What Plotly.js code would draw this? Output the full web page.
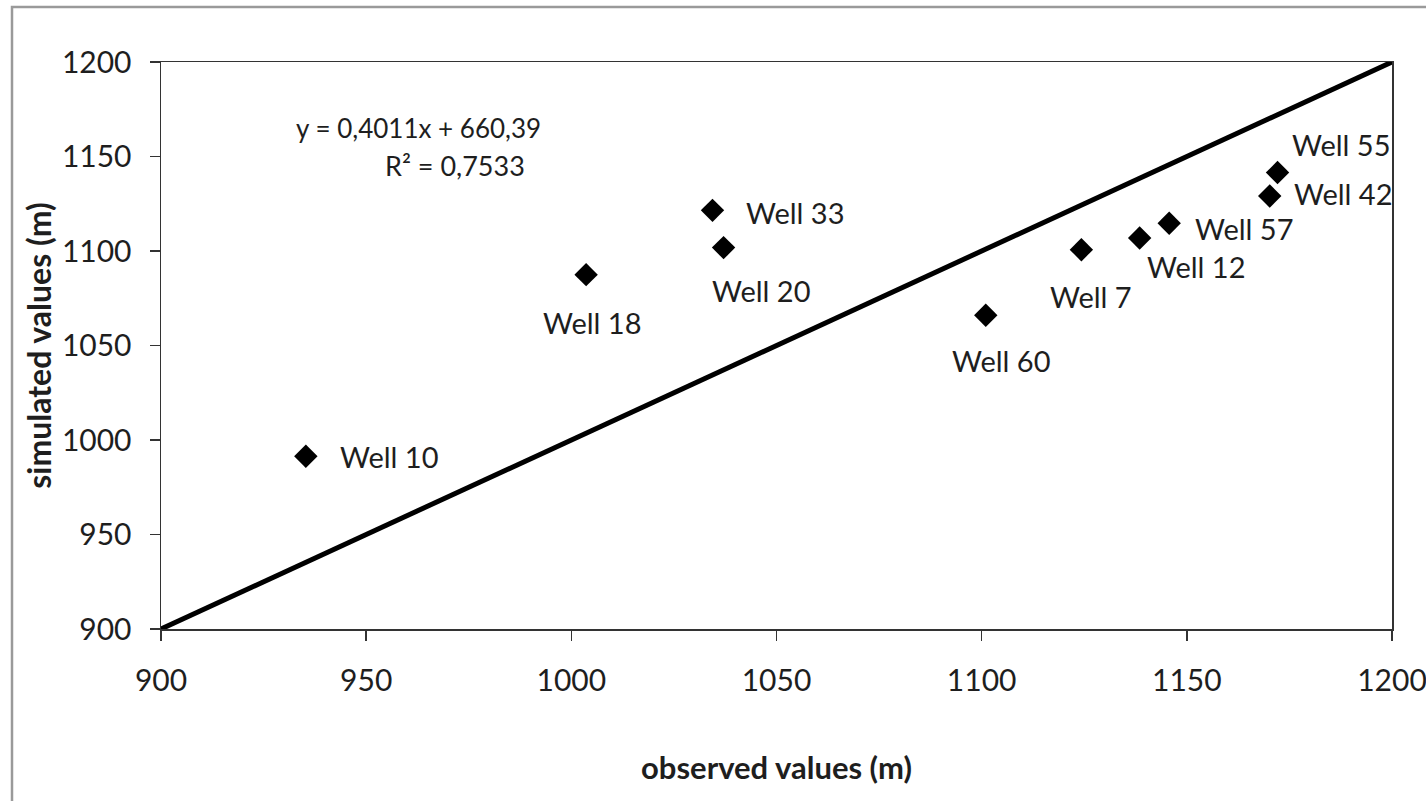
<!DOCTYPE html>
<html>
<head>
<meta charset="utf-8">
<script src="https://cdn.plot.ly/plotly-3.0.1.min.js"></script>
<style>html,body{margin:0;padding:0;background:#fff;}#chart{width:1426px;height:801px;}</style>
</head>
<body>
<div id="chart"></div>
<script>
// Data
const wells = ["Well 10", "Well 18", "Well 33", "Well 20", "Well 60", "Well 7", "Well 12", "Well 57", "Well 42", "Well 55"];
const observed = [935.3, 1003.6, 1034.4, 1037.1, 1101.0, 1124.3, 1138.5, 1145.7, 1170.2, 1172.1];
const simulated = [991.4, 1087.5, 1121.5, 1101.8, 1066.0, 1100.7, 1106.9, 1114.7, 1129.1, 1141.5];
const lineX = [900, 1200];
const lineY = [900, 1200];
const xTicks = [900, 950, 1000, 1050, 1100, 1150, 1200];
const yTicks = [900, 950, 1000, 1050, 1100, 1150, 1200];
const equationText = "y = 0,4011x + 660,39";
const r2Text = "R\u00b2 = 0,7533";

// Label placement (style only)
const labelPlace = [
  {xanchor: "left", dx: 32, dy: 0},
  {xanchor: "center", dx: 6, dy: -48},
  {xanchor: "left", dx: 32, dy: -2},
  {xanchor: "center", dx: 37, dy: -43},
  {xanchor: "center", dx: 15, dy: -45},
  {xanchor: "center", dx: 10, dy: -47},
  {xanchor: "center", dx: 56, dy: -29},
  {xanchor: "left", dx: 24, dy: -5},
  {xanchor: "left", dx: 22, dy: 3},
  {xanchor: "left", dx: 12, dy: 28}
];

const FONT = "Lato, 'Open Sans', sans-serif";
const TXT = "#1e1e1e";

const traces = [
  {
    x: lineX, y: lineY, type: "scatter", mode: "lines",
    line: {color: "#000", width: 5}, hoverinfo: "skip", showlegend: false
  },
  {
    x: observed, y: simulated, text: wells, type: "scatter", mode: "markers",
    marker: {symbol: "diamond", size: 18, color: "#000"}, showlegend: false
  }
];

const annotations = wells.map((w, i) => ({
  x: observed[i], y: simulated[i], xref: "x", yref: "y", text: w, showarrow: false,
  xanchor: labelPlace[i].xanchor, yanchor: "middle",
  xshift: labelPlace[i].dx, yshift: labelPlace[i].dy,
  font: {family: FONT, size: 29, color: TXT}
}));
const W = 1426, H = 801, mL = 161, mR = 34, mT = 62, mB = 172;
const pw = W - mL - mR, ph = H - mT - mB;
const px = v => (v - mL) / pw;
const py = v => 1 - (v - mT) / ph;
annotations.push({
  x: px(418), y: py(128), xref: "paper", yref: "paper", text: equationText, showarrow: false,
  xanchor: "center", yanchor: "middle",
  font: {family: FONT, size: 26, color: TXT}
});
annotations.push({
  x: px(455), y: py(165), xref: "paper", yref: "paper", text: r2Text, showarrow: false,
  xanchor: "center", yanchor: "middle",
  font: {family: FONT, size: 27, color: TXT}
});

const layout = {
  width: W, height: H,
  margin: {l: mL, r: mR, t: mT, b: mB, pad: 0},
  paper_bgcolor: "#fff", plot_bgcolor: "#fff",
  font: {family: FONT, color: TXT},
  showlegend: false,
  xaxis: {
    range: [900, 1200], tickvals: xTicks, ticktext: xTicks.map(String),
    showgrid: false, zeroline: false, showline: true, linecolor: "#333", linewidth: 1.5,
    mirror: true, ticks: "outside", ticklen: 10, tickcolor: "#333", tickwidth: 1.5,
    ticklabelstandoff: 14, ticklabeloverflow: "allow",
    tickfont: {family: FONT, size: 30, color: TXT},
    title: {text: "<b>observed values (m)</b>", font: {family: FONT, size: 31, color: TXT}, standoff: 62}
  },
  yaxis: {
    range: [900, 1200], tickvals: yTicks, ticktext: yTicks.map(String),
    showgrid: false, zeroline: false, showline: true, linecolor: "#333", linewidth: 1.5,
    mirror: true, ticks: "outside", ticklen: 10, tickcolor: "#333", tickwidth: 1.5,
    ticklabelstandoff: 12, ticklabeloverflow: "allow",
    tickfont: {family: FONT, size: 30, color: TXT},
    title: {text: "<b>simulated values (m)</b>", font: {family: FONT, size: 32, color: TXT}, standoff: 0}
  },
  annotations: annotations,
  shapes: [{
    type: "rect", xref: "paper", yref: "paper",
    x0: px(12), x1: px(1440), y0: py(815), y1: py(7),
    line: {color: "#9a9a9a", width: 2.5}, fillcolor: "rgba(0,0,0,0)", layer: "below"
  }]
};

Plotly.newPlot("chart", traces, layout, {staticPlot: true, displayModeBar: false});
</script>
</body>
</html>
